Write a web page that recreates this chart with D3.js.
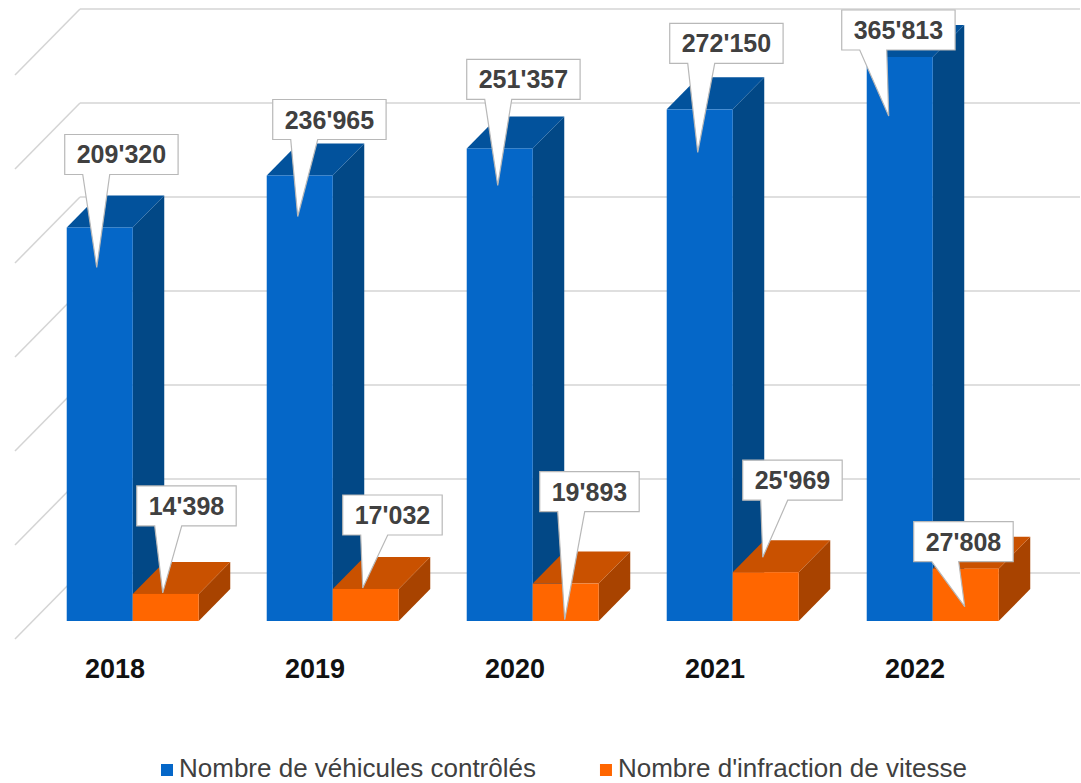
<!DOCTYPE html>
<html>
<head>
<meta charset="utf-8">
<script src="https://cdn.jsdelivr.net/npm/d3@7"></script>
<style>
  body { margin: 0; background: #fff; }
  svg { display: block; font-family: "Liberation Sans", Arial, sans-serif; }
</style>
</head>
<body>
<div id="chart"></div>
<script>
// data
var years = ['2018', '2019', '2020', '2021', '2022'];
var vehicules = [209320, 236965, 251357, 272150, 365813];
var infractions = [14398, 17032, 19893, 25969, 27808];
var seriesNames = ['Nombre de véhicules contrôlés', "Nombre d'infraction de vitesse"];
var yTicks = [0, 50000, 100000, 150000, 200000, 250000, 300000];

// callout placement: [tip dx from bar left, tip dy from bar top, box left - tip x, box bottom - tip y]
var calloutBlue = [[30, 40, -32, -93], [31, 41, -25, -77], [31, 37, -31, -86], [31, 43, -28, -89], [22, 59, -47, -66]];
var calloutOrange = [[30, -1, -26, -67], [30, -1, -20, -53], [32, 36, -25, -108], [30, -15, -20, -57], [32, 38, -51, -45]];

var W = 1081, H = 783;
var svg = d3.select('#chart').append('svg').attr('width', W).attr('height', H);

// 3d projection: full floor depth offset
var depthX = 65, depthY = 66;
var zFront = 18 / 66, zBack = 50 / 66;
function px(x, z) { return x + depthX * z; }
function py(y, z) { return y - depthY * z; }

var x0 = d3.scaleBand().domain(years).range([15, 1015]);
var x1 = d3.scaleBand().domain([0, 1]).range([34, 166]);
var y = d3.scaleLinear().domain([0, 300000]).range([639, 75]).clamp(true);

var fmt = d3.formatLocale({decimal: '.', thousands: "'", grouping: [3], currency: ['', '']}).format(',');

// gridlines: left wall diagonals + back wall
var grid = svg.append('g');
yTicks.forEach(function(t) {
    grid.append('line')
        .attr('x1', px(15, 0)).attr('y1', py(y(t), 0))
        .attr('x2', px(15, 1)).attr('y2', py(y(t), 1))
        .attr('stroke', '#d4d4d4').attr('stroke-width', 1.5);
    grid.append('line')
        .attr('x1', px(15, 1)).attr('y1', py(y(t), 1))
        .attr('x2', px(1015, 1)).attr('y2', py(y(t), 1))
        .attr('stroke', '#d4d4d4').attr('stroke-width', 1.5);
});

var colors = [
    {front: '#0567c8', top: '#02529c', side: '#024886'},
    {front: '#ff6600', top: '#c95100', side: '#a84300'}
];

function poly(pts) { return 'M' + pts.map(function(p) { return p[0] + ',' + p[1]; }).join('L') + 'Z'; }

var bars = svg.append('g');
var barInfo = [];
years.forEach(function(yr, i) {
    [vehicules[i], infractions[i]].forEach(function(v, s) {
        var xl = x0(yr) + x1(s), xr = xl + x1.bandwidth();
        var yt = y(v), yb = y(0);
        var c = colors[s];
        // side
        bars.append('path').attr('fill', c.side)
            .attr('d', poly([[px(xr, zFront), py(yt, zFront)], [px(xr, zBack), py(yt, zBack)],
                             [px(xr, zBack), py(yb, zBack)], [px(xr, zFront), py(yb, zFront)]]));
        // top
        bars.append('path').attr('fill', c.top)
            .attr('d', poly([[px(xl, zFront), py(yt, zFront)], [px(xr, zFront), py(yt, zFront)],
                             [px(xr, zBack), py(yt, zBack)], [px(xl, zBack), py(yt, zBack)]]));
        // front
        bars.append('rect').attr('fill', c.front)
            .attr('x', px(xl, zFront)).attr('y', py(yt, zFront))
            .attr('width', xr - xl).attr('height', yt < yb ? yb - yt : 0);
        barInfo.push({v: v, s: s, i: i, left: px(xl, zFront), top: py(yt, zFront)});
    });
});

// year labels
svg.append('g').selectAll('text').data(years).enter().append('text')
    .attr('x', function(d) { return x0(d) + x0.bandwidth() / 2; })
    .attr('y', 678)
    .attr('text-anchor', 'middle')
    .attr('font-size', 27).attr('font-weight', 'bold').attr('fill', '#111')
    .text(function(d) { return d; });

// callouts
var callouts = svg.append('g');
barInfo.forEach(function(b) {
    var lay = (b.s === 0 ? calloutBlue : calloutOrange)[b.i];
    var tipX = b.left + lay[0], tipY = b.top + lay[1];
    var bx = tipX + lay[2], bb = tipY + lay[3];
    var g = callouts.append('g');
    var txt = g.append('text')
        .attr('font-size', 25).attr('font-weight', 'bold').attr('fill', '#404040')
        .attr('text-anchor', 'middle')
        .text(fmt(b.v));
    var tw = txt.node().getComputedTextLength();
    var bw = tw + 24, bh = 40, bt = bb - bh;
    g.insert('path', 'text')
        .attr('fill', '#fff').attr('stroke', '#b8b8b8').attr('stroke-width', 1.2)
        .attr('d', poly([[bx, bt], [bx + bw, bt], [bx + bw, bb], [bx + 45, bb], [tipX, tipY], [bx + 18, bb], [bx, bb]]));
    txt.attr('x', bx + bw / 2).attr('y', bb - 11);
});

// legend
var legend = svg.append('g');
var lx = 161;
seriesNames.forEach(function(name, s) {
    legend.append('rect').attr('x', lx).attr('y', 764).attr('width', 12).attr('height', 12)
        .attr('fill', colors[s].front);
    var t = legend.append('text').attr('x', lx + 18).attr('y', 777)
        .attr('font-size', 26).attr('fill', '#404040').text(name);
    lx = lx + 18 + t.node().getComputedTextLength() + 64;
});
</script>
</body>
</html>
